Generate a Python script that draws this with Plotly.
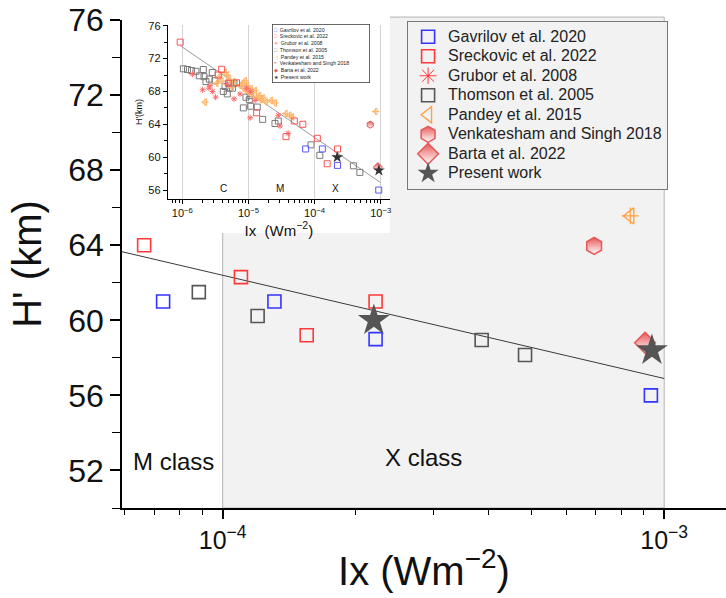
import numpy as np
import plotly.graph_objects as go

# ---------------- data (Ix in W m^-2, H' in km) ----------------
GAV_X = [7.33e-5, 1.31e-4, 2.22e-4, 9.33e-4]
GAV_Y = [61.0, 61.0, 59.0, 56.0]

SRE_X = [9.3e-7, 3.5e-6, 3.94e-6, 4.97e-6, 6.6e-6, 1.33e-5, 3.7e-5, 4.94e-5,
         6.64e-5, 1.10e-4, 1.55e-4, 2.22e-4]
SRE_Y = [74.0, 70.0, 70.7, 69.0, 69.05, 65.4, 62.5, 64.4,
         64.0, 62.3, 59.2, 61.0]

GRU_X = [1.42e-6, 2.03e-6, 2.53e-6, 2.63e-6, 2.88e-6, 3.19e-6, 4.79e-6, 6.05e-6,
         7.45e-6, 9.39e-6, 1.08e-5, 1.06e-5, 1.26e-5, 2.83e-5, 3.0e-5, 3.98e-5]
GRU_Y = [70.1, 68.2, 68.4, 68.7, 68.0, 67.3, 68.9, 67.1,
         67.7, 68.4, 68.0, 64.8, 66.9, 65.1, 63.8, 62.9]

THO_X = [1.04e-6, 1.20e-6, 1.38e-6, 1.61e-6, 1.81e-6, 2.08e-6, 2.13e-6, 2.28e-6,
         2.57e-6, 2.84e-6, 3.12e-6, 4.17e-6, 4.43e-6, 4.79e-6, 5.13e-6, 5.25e-6,
         5.75e-6, 6.05e-6, 8.38e-6, 9.18e-6, 1.03e-5, 1.06e-5, 1.08e-5, 1.36e-5,
         1.64e-5, 2.52e-5, 2.83e-5, 8.83e-5, 1.20e-4, 3.86e-4, 4.84e-4]
THO_Y = [70.75, 70.67, 70.55, 70.45, 69.9, 70.67, 69.8, 69.2,
         69.5, 70.3, 69.3, 68.0, 68.6, 67.7, 68.4, 69.0,
         68.4, 69.0, 66.0, 67.3, 67.0, 67.5, 66.2, 66.1,
         64.6, 64.1, 64.4, 61.5, 60.23, 58.95, 58.15]

PAN_X = [2.20e-6, 3.3e-6, 3.63e-6, 3.94e-6, 4.4e-6, 4.79e-6, 5.13e-6, 5.62e-6,
         6.0e-6, 7.45e-6, 8.18e-6, 8.57e-6, 8.9e-6, 9.18e-6, 9.62e-6, 1.0e-5,
         1.1e-5, 1.12e-5, 1.26e-5, 1.33e-5, 1.46e-5, 1.53e-5, 1.68e-5, 1.85e-5,
         2.2e-5, 2.52e-5, 3.66e-5, 4.17e-5, 4.57e-5, 8.38e-4]
PAN_Y = [66.7, 69.0, 69.8, 69.25, 70.3, 70.0, 69.5, 68.5,
         69.2, 68.7, 69.0, 68.4, 69.3, 68.1, 68.7, 68.0,
         68.3, 67.6, 68.1, 67.3, 67.5, 67.0, 67.2, 66.7,
         66.9, 66.6, 65.3, 65.1, 64.9, 65.56]

VEN_X = [6.94e-4]
VEN_Y = [63.96]
BAR_X = [9.05e-4]
BAR_Y = [58.8]
PRE_X = [2.2e-4, 9.38e-4]
PRE_Y = [60.0, 58.4]

# linear fit H' = A + B*log10(Ix)
FIT_A = 40.4
FIT_B = -5.5
FIT_XMIN_INSET = 9.3e-7
FIT_XMAX = 1.0e-3

NAMES = ["Gavrilov et al. 2020", "Sreckovic et al. 2022", "Grubor et al. 2008",
         "Thomson et al. 2005", "Pandey et al. 2015", "Venkatesham and Singh 2018",
         "Barta et al. 2022", "Present work"]

# axis settings
MAIN_XRANGE = [-4.228, -2.86]
MAIN_YRANGE = [50, 76]
INSET_XRANGE = [-6.22, -2.86]
INSET_YRANGE = [54.9, 76.1]

FONT = "Liberation Sans, Arial, sans-serif"

fig = go.Figure()

def fit_line(xmin, xmax):
    xs = np.logspace(np.log10(xmin), np.log10(xmax), 50)
    return xs, FIT_A + FIT_B * np.log10(xs)

# ---------------- main panel ----------------
lx, ly = fit_line(10 ** MAIN_XRANGE[0], FIT_XMAX)
fig.add_trace(go.Scatter(x=lx, y=ly, mode="lines", line=dict(color="#3a3a3a", width=1),
                         showlegend=False, hoverinfo="skip"))

RED = "#ff3838"
BLUE = "#3434ff"
GREY = "#555555"
ORANGE = "#ffa040"
HEXRED = "#e85858"

main_specs = [
    (GAV_X, GAV_Y, NAMES[0], dict(symbol="square-open", size=13, color=BLUE, line=dict(width=1.6, color=BLUE))),
    (SRE_X, SRE_Y, NAMES[1], dict(symbol="square-open", size=13, color=RED, line=dict(width=1.6, color=RED))),
    (GRU_X, GRU_Y, NAMES[2], dict(symbol="asterisk-open", size=14, color=RED, line=dict(width=1, color=RED))),
    (THO_X, THO_Y, NAMES[3], dict(symbol="square-open", size=13, color=GREY, line=dict(width=1.6, color=GREY))),
    (PAN_X, PAN_Y, NAMES[4], dict(symbol="triangle-left-open", size=14, color=ORANGE, line=dict(width=1.3, color=ORANGE))),
    (VEN_X, VEN_Y, NAMES[5], dict(symbol="hexagon", size=17, color=HEXRED,
                                  gradient=dict(type="vertical", color="white"),
                                  line=dict(width=1.5, color=HEXRED))),
    (BAR_X, BAR_Y, NAMES[6], dict(symbol="diamond", size=16, color=HEXRED,
                                  gradient=dict(type="vertical", color="white"),
                                  line=dict(width=1.5, color=HEXRED))),
    (PRE_X, PRE_Y, NAMES[7], dict(symbol="star", size=24, color=GREY, line=dict(width=0))),
]

for xs, ys, name, mk in main_specs:
    fig.add_trace(go.Scatter(x=xs, y=ys, mode="markers",
                             name="<span style='font-size:16px'>%s</span>" % name, marker=mk,
                             xaxis="x", yaxis="y", cliponaxis=True))
    if name == NAMES[4]:
        fig.add_trace(go.Scatter(x=xs, y=ys, mode="markers", showlegend=False,
                                 marker=dict(symbol="cross-thin-open", size=12, color=ORANGE,
                                             line=dict(width=1.2, color=ORANGE))))

# ---------------- inset panel ----------------
lx2, ly2 = fit_line(FIT_XMIN_INSET, FIT_XMAX)
fig.add_trace(go.Scatter(x=lx2, y=ly2, mode="lines", line=dict(color="#9a9a9a", width=1),
                         showlegend=False, xaxis="x2", yaxis="y2", hoverinfo="skip"))

IRED = "#ff5050"
IBLUE = "#5a5aff"
IGREY = "#7a7a7a"
IORANGE = "#ffb466"
inset_specs = [
    (THO_X, THO_Y, dict(symbol="square-open", size=6, color=IGREY, line=dict(width=1, color=IGREY))),
    (PAN_X, PAN_Y, dict(symbol="triangle-left-open", size=6, color=IORANGE, line=dict(width=1, color=IORANGE))),
    (PAN_X, PAN_Y, dict(symbol="cross-thin-open", size=5, color=IORANGE, line=dict(width=1, color=IORANGE))),
    (GRU_X, GRU_Y, dict(symbol="asterisk-open", size=5, color="#ff6a6a", line=dict(width=1, color="#ff6a6a"))),
    (SRE_X, SRE_Y, dict(symbol="square-open", size=6, color=IRED, line=dict(width=1, color=IRED))),
    (GAV_X, GAV_Y, dict(symbol="square-open", size=6, color=IBLUE, line=dict(width=1, color=IBLUE))),
    (VEN_X, VEN_Y, dict(symbol="hexagon", size=7, color=HEXRED, gradient=dict(type="vertical", color="white"),
                        line=dict(width=1, color=HEXRED))),
    (BAR_X, BAR_Y, dict(symbol="diamond", size=7, color=HEXRED, gradient=dict(type="vertical", color="white"),
                        line=dict(width=1, color=HEXRED))),
    (PRE_X, PRE_Y, dict(symbol="star", size=9, color="#333333", line=dict(width=0))),
]
for xs, ys, mk in inset_specs:
    fig.add_trace(go.Scatter(x=xs, y=ys, mode="markers", marker=mk, showlegend=False,
                             xaxis="x2", yaxis="y2"))

# ---------------- shapes ----------------
SHADE_X = [1e-4, 1e-3]
shapes = [
    dict(type="rect", xref="x", yref="paper", x0=SHADE_X[0], x1=SHADE_X[1], y0=0, y1=1.006,
         fillcolor="#f2f2f2", line=dict(color="#b4b4b4", width=1), layer="below"),
    dict(type="rect", xref="paper", yref="paper", x0=0.002, x1=0.4437, y0=0.5635, y1=1.05,
         fillcolor="white", line=dict(width=0), layer="below"),
]

minor_main = [k * 10.0 ** e for e in (-5, -4, -3) for k in range(2, 10)]
minor_inset = [k * 10.0 ** e for e in (-7, -6, -5, -4, -3) for k in range(2, 10)]

annotations = [
    dict(text="M class", x=np.log10(6.2e-5), y=52.5, xref="x", yref="y", showarrow=False,
         xanchor="left", yanchor="middle", font=dict(size=24, color="#111", family=FONT)),
    dict(text="X class", x=np.log10(2.31e-4), y=52.7, xref="x", yref="y", showarrow=False,
         xanchor="left", yanchor="middle", font=dict(size=24, color="#111", family=FONT)),
]
CLASS_LABELS = ["C", "M", "X"]
CLASS_X = [4.27e-6, 3.0e-5, 2.1e-4]
for lab, cx in zip(CLASS_LABELS, CLASS_X):
    annotations.append(dict(text=lab, x=np.log10(cx), y=56.2, xref="x2", yref="y2", showarrow=False,
                            font=dict(size=10, color="#111", family=FONT)))

# inset legend as text
leg_syms = [("□", IBLUE), ("□", IRED), ("✳", "#ff6a6a"), ("□", IGREY), ("◁", IORANGE),
            ("◓", HEXRED), ("◆", HEXRED), ("★", "#333333")]
leg_lines = ["<span style='color:%s'>%s</span>  %s" % (c, s, n) for (s, c), n in zip(leg_syms, NAMES)]
annotations.append(dict(text="<br>".join(leg_lines), xref="paper", yref="paper", x=0.248, y=0.992,
                        xanchor="left", yanchor="top", align="left", valign="middle", showarrow=False,
                        width=94, height=55,
                        font=dict(size=5.2, color="#222", family=FONT),
                        bgcolor="white", bordercolor="#444", borderwidth=0.8, borderpad=1))

fig.update_layout(
    width=726, height=598,
    margin=dict(l=122, r=0, t=20, b=90),
    paper_bgcolor="white", plot_bgcolor="white",
    font=dict(family=FONT, color="#111"),
    shapes=shapes,
    annotations=annotations,
    showlegend=True,
    legend=dict(x=0.472, y=0.998, xanchor="left", yanchor="top",
                bgcolor="#f2f2f2", bordercolor="#777", borderwidth=1,
                font=dict(size=12.7, color="#222", family=FONT),
                tracegroupgap=0),
    xaxis=dict(type="log", range=MAIN_XRANGE, tickvals=[1e-4, 1e-3],
               ticktext=["10<sup>−4</sup>", "10<sup>−3</sup>"],
               ticks="outside", ticklen=9, tickwidth=1.5, tickcolor="black",
               showline=True, linecolor="black", linewidth=1.5, showgrid=False, zeroline=False,
               tickfont=dict(size=25, family=FONT, color="#111"),
               minor=dict(tickvals=minor_main, ticks="outside", ticklen=5, tickwidth=1.2,
                          tickcolor="black", showgrid=False),
               title=dict(text="Ix (Wm<sup>−2</sup>)", font=dict(size=40, family=FONT, color="#111"),
                          standoff=4)),
    yaxis=dict(range=MAIN_YRANGE, tickvals=list(range(52, 77, 4)),
               ticks="outside", ticklen=10, tickwidth=1.5, tickcolor="black",
               showline=True, linecolor="black", linewidth=1.5, showgrid=False, zeroline=False,
               tickfont=dict(size=32, family=FONT, color="#111"),
               minor=dict(dtick=2, ticks="outside", ticklen=8, tickwidth=1.2, tickcolor="black",
                          showgrid=False),
               title=dict(text="H' (km)", font=dict(size=40, family=FONT, color="#111"), standoff=14)),
    xaxis2=dict(type="log", range=INSET_XRANGE, domain=[0.0757, 0.4437], anchor="y2",
                tickvals=[1e-6, 1e-5, 1e-4, 1e-3],
                ticktext=["10<sup>−6</sup>", "10<sup>−5</sup>", "10<sup>−4</sup>", "10<sup>−3</sup>"],
                ticks="outside", ticklen=4, tickwidth=1, tickcolor="black",
                showline=True, linecolor="black", linewidth=1, zeroline=False,
                showgrid=True, gridcolor="#d4d4d4", gridwidth=1,
                tickfont=dict(size=11, family=FONT, color="#111"),
                minor=dict(tickvals=minor_inset, ticks="outside", ticklen=2.5, tickwidth=1,
                           tickcolor="black", showgrid=False),
                title=dict(text="Ix  (Wm<sup>−2</sup>)", font=dict(size=15, family=FONT, color="#111"),
                           standoff=2)),
    yaxis2=dict(range=INSET_YRANGE, domain=[0.633, 0.99], anchor="x2",
                tickvals=list(range(56, 77, 4)),
                ticks="outside", ticklen=4, tickwidth=1, tickcolor="black",
                showline=True, linecolor="black", linewidth=1, showgrid=False, zeroline=False,
                tickfont=dict(size=11, family=FONT, color="#111"),
                minor=dict(dtick=2, ticks="outside", ticklen=2.5, tickwidth=1, tickcolor="black"),
                title=dict(text="H'(km)", font=dict(size=9, family=FONT, color="#111"), standoff=4)),
)

fig.write_html("out.html")
